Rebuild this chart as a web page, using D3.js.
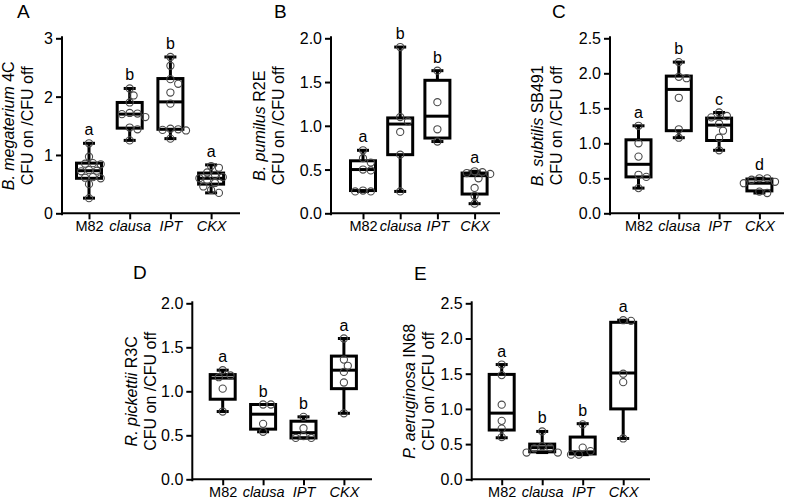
<!DOCTYPE html>
<html><head><meta charset="utf-8">
<script src="https://cdn.jsdelivr.net/npm/d3@7"></script>
<style>
body{margin:0;background:#fff}
svg{display:block}
text{font-family:"Liberation Sans",Arial,sans-serif;fill:#000}
</style>
</head><body>
<svg id="chart" width="788" height="502"></svg>
<script>
// ---------------- DATA ----------------
const categories = ["M82", "clausa", "IPT", "CKX"];
const italicCategories = ["clausa", "IPT", "CKX"];
const panelIds = ["A", "B", "C", "D", "E"];
const speciesNames = ["B. megaterium", "B. pumilus", "B. subtilis", "R. pickettii", "P. aeruginosa"];
const strainIds = ["4C", "R2E", "SB491", "R3C", "IN68"];
const yTitleLine2 = "CFU on /CFU off";

const yTicksA = [0, 1, 2, 3];
const yTicksB = [0, 0.5, 1.0, 1.5, 2.0];
const yTicksC = [0, 0.5, 1.0, 1.5, 2.0, 2.5];
const yTicksD = [0, 0.5, 1.0, 1.5, 2.0];
const yTicksE = [0, 0.5, 1.0, 1.5, 2.0, 2.5];

// individual points per category (M82, clausa, IPT, CKX)
const pointsA = [
  [1.20, 0.97, 0.86, 0.84, 0.85, 0.74, 0.73, 0.72, 0.62, 0.60, 0.61, 0.50, 0.26],
  [2.14, 2.02, 1.90, 1.72, 1.71, 1.70, 1.65, 1.47, 1.44, 1.25],
  [2.68, 2.53, 2.30, 2.22, 2.07, 1.88, 1.45, 1.44, 1.43, 1.42, 1.28],
  [0.81, 0.78, 0.70, 0.66, 0.62, 0.60, 0.57, 0.52, 0.46, 0.40, 0.35]
];
const pointsB = [
  [0.72, 0.63, 0.58, 0.50, 0.49, 0.26, 0.25, 0.25],
  [1.90, 1.10, 1.05, 0.93, 0.67, 0.25],
  [1.63, 1.27, 0.96, 0.82],
  [0.48, 0.47, 0.46, 0.45, 0.40, 0.29, 0.20, 0.11]
];
const pointsC = [
  [1.25, 1.00, 0.81, 0.55, 0.52, 0.36],
  [2.16, 1.95, 1.93, 1.65, 1.20, 1.08],
  [1.44, 1.39, 1.37, 1.28, 1.18, 1.08, 0.90],
  [0.50, 0.50, 0.48, 0.45, 0.43, 0.31, 0.29]
];
const pointsD = [
  [1.24, 1.18, 1.16, 1.03, 0.77],
  [0.85, 0.85, 0.63, 0.54],
  [0.71, 0.58, 0.49, 0.47, 0.47],
  [1.60, 1.36, 1.29, 1.22, 1.10, 0.75]
];
const pointsE = [
  [1.63, 1.48, 1.06, 0.83, 0.72, 0.60],
  [0.68, 0.47, 0.45, 0.44, 0.38, 0.38],
  [0.78, 0.45, 0.40, 0.35, 0.35],
  [2.26, 2.25, 1.50, 1.38, 0.58]
];

// box statistics [min, q1, median, q3, max]
const boxA = [
  [0.26, 0.60, 0.73, 0.86, 1.20],
  [1.25, 1.46, 1.70, 1.90, 2.14],
  [1.28, 1.44, 1.91, 2.31, 2.68],
  [0.35, 0.50, 0.60, 0.69, 0.83]
];
const boxB = [
  [0.25, 0.26, 0.50, 0.60, 0.72],
  [0.25, 0.67, 1.02, 1.09, 1.90],
  [0.82, 0.86, 1.11, 1.52, 1.63],
  [0.11, 0.22, 0.43, 0.46, 0.48]
];
const boxC = [
  [0.36, 0.52, 0.70, 1.05, 1.25],
  [1.08, 1.18, 1.77, 1.96, 2.16],
  [0.90, 1.04, 1.26, 1.36, 1.44],
  [0.29, 0.32, 0.43, 0.49, 0.50]
];
const boxD = [
  [0.77, 0.91, 1.15, 1.19, 1.24],
  [0.54, 0.57, 0.74, 0.85, 0.85],
  [0.47, 0.47, 0.53, 0.66, 0.71],
  [0.75, 1.03, 1.24, 1.40, 1.60]
];
const boxE = [
  [0.59, 0.70, 0.94, 1.49, 1.63],
  [0.38, 0.39, 0.45, 0.50, 0.68],
  [0.35, 0.36, 0.39, 0.60, 0.79],
  [0.58, 1.00, 1.51, 2.23, 2.26]
];

const lettersA = ["a", "b", "b", "a"];
const lettersB = ["a", "b", "b", "a"];
const lettersC = ["a", "b", "c", "d"];
const lettersD = ["a", "b", "b", "a"];
const lettersE = ["a", "b", "b", "a"];

// ---------------- LAYOUT ----------------
const layout = [
  {axisX: 62,    first: 89,    step: 40.7, end: 240, top: 38.3,  bottom: 213.3, t2: 33,  labX: 17,  labY: 18,  fmt: "d"},
  {axisX: 331,   first: 363,   step: 37.2, end: 500, top: 38.3,  bottom: 213.3, t2: 284, labX: 274, labY: 18,  fmt: ".1f"},
  {axisX: 610,   first: 638.5, step: 40.3, end: 784, top: 38.3,  bottom: 213.3, t2: 562, labX: 552, labY: 18,  fmt: ".1f"},
  {axisX: 192.3, first: 222.7, step: 40.4, end: 372, top: 303.3, bottom: 479.3, t2: 156, labX: 133, labY: 279, fmt: ".1f"},
  {axisX: 471.7, first: 501.7, step: 40.5, end: 650, top: 303.3, bottom: 479.3, t2: 434, labX: 414, labY: 280, fmt: ".1f"}
];

const allTicks = [yTicksA, yTicksB, yTicksC, yTicksD, yTicksE];
const allPoints = [pointsA, pointsB, pointsC, pointsD, pointsE];
const allBoxes = [boxA, boxB, boxC, boxD, boxE];
const allLetters = [lettersA, lettersB, lettersC, lettersD, lettersE];

const svg = d3.select("#chart");
const R = 3.6;

function swarm(vals, y) {
  const pts = vals.map(v => ({v, py: y(v)})).sort((a, b) => a.py - b.py);
  const placed = [];
  const s = 2 * R + 0.6;
  const cands = [0, s / 2, -s / 2, s, -s, 1.5 * s, -1.5 * s, 2 * s, -2 * s, 2.5 * s, -2.5 * s];
  for (const p of pts) {
    let off = 0;
    for (const c of cands) {
      if (placed.every(q => Math.hypot(q.dx - c, q.py - p.py) >= 2 * R)) { off = c; break; }
    }
    p.dx = off;
    placed.push(p);
  }
  return pts;
}

layout.forEach((L, pi) => {
  const ticks = allTicks[pi];
  const y = d3.scaleLinear().domain([0, d3.max(ticks)]).range([L.bottom, L.top]);
  const x = d3.scalePoint().domain(categories).range([L.first, L.first + 3 * L.step]);
  const g = svg.append("g");

  // y axis
  const yAxis = d3.axisLeft(y).tickValues(ticks).tickSize(6).tickSizeOuter(0)
    .tickFormat(d3.format(L.fmt));
  const ya = g.append("g").attr("transform", `translate(${L.axisX},0)`).call(yAxis);
  ya.selectAll("path,line").attr("stroke", "#000").attr("stroke-width", 2);
  ya.select(".domain").attr("d", `M0,${L.top - 1}V${L.bottom + 1}`).attr("stroke-linecap", "square");
  ya.selectAll("text").attr("font-size", 16).attr("x", -9).attr("dy", "0.34em")
    .style("font-family", '"Liberation Sans",Arial,sans-serif').attr("fill", "#000");

  // x axis
  const xAxis = d3.axisBottom(x).tickSize(6).tickSizeOuter(0);
  const xa = g.append("g").attr("transform", `translate(0,${L.bottom})`).call(xAxis);
  xa.select(".domain").attr("d", `M${L.axisX},0H${L.end}`);
  xa.selectAll("path,line").attr("stroke", "#000").attr("stroke-width", 2);
  xa.selectAll("text").attr("font-size", 14.5).attr("y", 7).attr("dy", "0.71em")
    .style("font-family", '"Liberation Sans",Arial,sans-serif').attr("fill", "#000")
    .style("font-style", d => italicCategories.includes(d) ? "italic" : "normal");

  // y title (2 lines)
  const cy = (L.top + L.bottom) / 2;
  const t1 = g.append("text").attr("transform", `translate(${L.t2 - 19},${cy}) rotate(-90)`)
    .attr("text-anchor", "middle").attr("font-size", 16);
  t1.append("tspan").style("font-style", "italic").text(speciesNames[pi]);
  t1.append("tspan").text(" " + strainIds[pi]);
  g.append("text").attr("transform", `translate(${L.t2},${cy}) rotate(-90)`)
    .attr("text-anchor", "middle").attr("font-size", 16).text(yTitleLine2);

  // panel letter
  g.append("text").attr("x", L.labX).attr("y", L.labY).attr("font-size", 19).text(panelIds[pi]);

  // boxes
  const boxes = allBoxes[pi];
  const bw = 12.5, cw = 6;
  categories.forEach((cat, ci) => {
    const [mn, q1, md, q3, mx] = boxes[ci];
    const cx = x(cat);
    const bg = g.append("g").attr("stroke", "#000").attr("stroke-width", 3).attr("fill", "none");
    bg.append("line").attr("x1", cx).attr("x2", cx).attr("y1", y(mx)).attr("y2", y(q3));
    bg.append("line").attr("x1", cx).attr("x2", cx).attr("y1", y(q1)).attr("y2", y(mn));
    bg.append("line").attr("x1", cx - cw).attr("x2", cx + cw).attr("y1", y(mx)).attr("y2", y(mx));
    bg.append("line").attr("x1", cx - cw).attr("x2", cx + cw).attr("y1", y(mn)).attr("y2", y(mn));
    bg.append("rect").attr("x", cx - bw).attr("width", 2 * bw)
      .attr("y", y(q3)).attr("height", y(q1) - y(q3));
    bg.append("line").attr("x1", cx - bw).attr("x2", cx + bw).attr("y1", y(md)).attr("y2", y(md));

    // points
    const pts = swarm(allPoints[pi][ci], y);
    g.append("g").selectAll("circle").data(pts).join("circle")
      .attr("cx", d => cx + d.dx).attr("cy", d => d.py).attr("r", R)
      .attr("fill", "none").attr("stroke", "#4a4a4a").attr("stroke-width", 1.1);

    // significance letter
    g.append("text").attr("x", cx).attr("y", y(mx) - 8).attr("text-anchor", "middle")
      .attr("font-size", 16).text(allLetters[pi][ci]);
  });
});
</script>
</body></html>
